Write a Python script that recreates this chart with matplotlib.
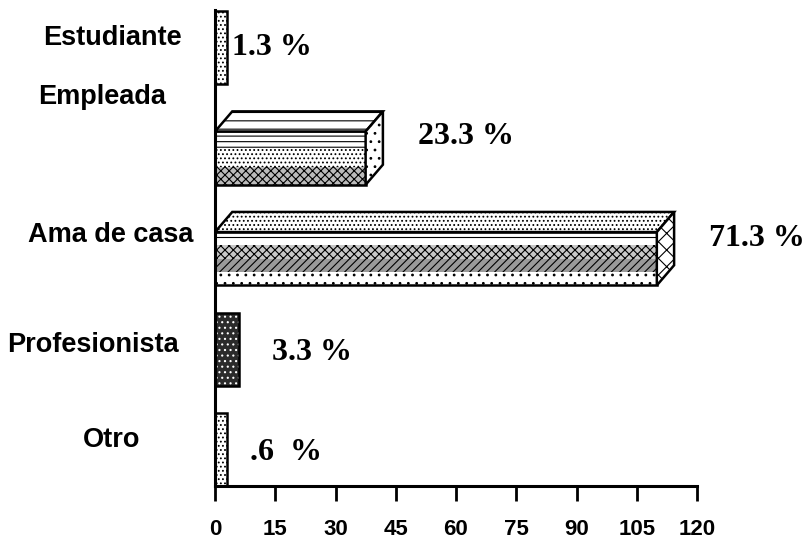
import numpy as np
import matplotlib.pyplot as plt
from matplotlib.patches import Polygon
from matplotlib.transforms import blended_transform_factory

# ── data ──────────────────────────────────────────────────────────────────
categories = ["Estudiante", "Empleada", "Ama de casa", "Profesionista", "Otro"]
values = [3, 37.5, 110, 6, 3]
pct_labels = ["1.3 %", "23.3 %", "71.3 %", "3.3 %", ".6  %"]
xticks = [0, 15, 30, 45, 60, 75, 90, 105, 120]

# ── layout ────────────────────────────────────────────────────────────────
bar_h = 0.73        # full extent (front + top face), in category units
front_h = 0.53
depth_x = 4.3       # 3D offset, data units
depth_y = bar_h - front_h
label_y = [-0.09, -0.51, -0.14, -0.04, -0.10]    # offsets of category labels
label_cx = [-0.212, -0.235, -0.216, -0.253, -0.214]
pct_x = [4.2, 50.6, 123.0, 14.2, 8.7]
pct_dy = [0.0, -0.12, -0.10, 0.03, 0.03]


def _poly(ax, pts, **kw):
    p = Polygon(pts, closed=True, **kw)
    ax.add_patch(p)
    return p


def _bands(ax, x0, x1, top, bot, hatches):
    """Front face split in horizontal hatch bands (top to bottom)."""
    edges = np.linspace(top, bot, len(hatches) + 1)
    for (h, fc), a, b in zip(hatches, edges[:-1], edges[1:]):
        _poly(ax, [(x0, a), (x1, a), (x1, b), (x0, b)],
              facecolor=fc, edgecolor="black", linewidth=0, hatch=h)


def _bar3d(ax, y, v, front_style, top_hatch, side_hatch):
    bot = y + bar_h / 2
    ftop = bot - front_h
    ttop = ftop - depth_y
    _bands(ax, 0, v, ftop, bot, front_style)
    _poly(ax, [(0, ftop), (v, ftop), (v, bot), (0, bot)],
          fill=False, edgecolor="black", linewidth=1.8)
    _poly(ax, [(0, ftop), (v, ftop), (v + depth_x, ttop), (depth_x, ttop)],
          facecolor="white", edgecolor="black", linewidth=1.8, hatch=top_hatch)
    _poly(ax, [(v, ftop), (v + depth_x, ttop), (v + depth_x, bot - depth_y), (v, bot)],
          facecolor="white", edgecolor="black", linewidth=1.8, hatch=side_hatch)


def _flat(ax, y, v, fc, hatch, hcolor="black"):
    top, bot = y - bar_h / 2, y + bar_h / 2
    _poly(ax, [(0, top), (v, top), (v, bot), (0, bot)],
          facecolor=fc, edgecolor=hcolor, linewidth=0, hatch=hatch)
    _poly(ax, [(0, top), (v, top), (v, bot), (0, bot)],
          fill=False, edgecolor="black", linewidth=1.8)


plt.rcParams["hatch.linewidth"] = 0.8

fig = plt.figure(figsize=(8.07, 5.43), dpi=100)
ax = fig.add_axes([215 / 807, 57 / 543, 482 / 807, 476 / 543])

ypos = np.arange(len(categories))

_flat(ax, ypos[0], values[0], "white", "....")
_bar3d(ax, ypos[1], values[1],
       [("---", "white"), ("....", "white"), ("xxxx", "#bbbbbb")],
       "--", "..")
_bar3d(ax, ypos[2], values[2],
       [("--", "white"), ("xxxx", "#c8c8c8"), ("////", "#9a9a9a"), ("..", "white")],
       "....", "xx")
_flat(ax, ypos[3], values[3], "#2b2b2b", "...", hcolor="white")
_flat(ax, ypos[4], values[4], "white", "....")

ax.set_xlim(0, 120)
ax.set_ylim(4.36, -0.373)

ax.spines["top"].set_visible(False)
ax.spines["right"].set_visible(False)
ax.spines["left"].set_linewidth(2.2)
ax.spines["bottom"].set_linewidth(2.2)

ax.set_yticks([])
ax.set_xticks(xticks)
ax.set_xticklabels([str(t) for t in xticks], fontsize=16, fontweight="bold",
                   family="Liberation Sans")
ax.tick_params(axis="x", direction="out", length=11, width=2, pad=13)

trans = blended_transform_factory(ax.transAxes, ax.transData)
for i, name in enumerate(categories):
    ax.text(label_cx[i], ypos[i] + label_y[i], name, transform=trans,
            ha="center", va="center", fontsize=19.5, fontweight="bold",
            family="Liberation Sans")

for i, txt in enumerate(pct_labels):
    ax.text(pct_x[i], ypos[i] + pct_dy[i], txt, ha="left", va="center",
            fontsize=23, fontweight="bold", family="Liberation Serif",
            clip_on=False)

fig.savefig("out.png", dpi=100)
